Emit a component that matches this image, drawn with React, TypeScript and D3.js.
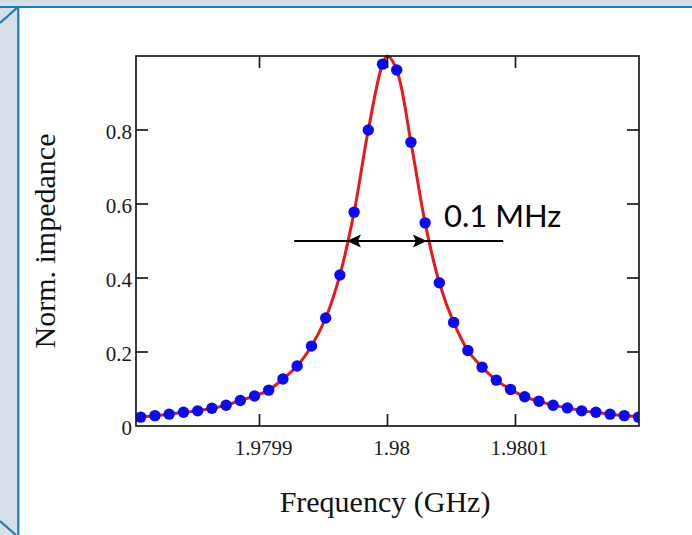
import React from "react";
import * as d3 from "d3";

// Sampled points (blue dots): frequency in GHz, normalized impedance
const dotFreqs: number[] = [
  1.9798072, 1.9798183, 1.9798294, 1.9798406, 1.9798517, 1.9798628, 1.9798739,
  1.979885, 1.9798961, 1.9799072, 1.9799183, 1.9799294, 1.9799406, 1.9799517,
  1.9799628, 1.9799739, 1.979985, 1.9799961, 1.9800072, 1.9800183, 1.9800294,
  1.9800405, 1.9800517, 1.9800628, 1.9800739, 1.980085, 1.9800961, 1.9801072,
  1.9801183, 1.9801294, 1.9801405, 1.9801517, 1.9801628, 1.9801739, 1.980185,
  1.9801961,
];
const dotValues: number[] = [
  0.024, 0.028, 0.032, 0.037, 0.041, 0.048, 0.056, 0.069, 0.081, 0.097, 0.127,
  0.162, 0.216, 0.292, 0.408, 0.578, 0.8, 0.978, 0.962, 0.767, 0.549, 0.387,
  0.28, 0.204, 0.159, 0.124, 0.099, 0.079, 0.067, 0.056, 0.049, 0.041, 0.037,
  0.032, 0.028, 0.024,
];

// Red fitted curve: extra readings (plot edges and the peak) added to the dots
const curveExtraFreqs: number[] = [1.9798035, 1.98, 1.9801965];
const curveExtraValues: number[] = [0.023, 1.0, 0.023];

// Axes
const xDomain: [number, number] = [1.9798035, 1.9801965];
const yDomain: [number, number] = [0, 1];
const xTicks: number[] = [1.9799, 1.98, 1.9801];
const xTickLabels: string[] = ["1.9799", "1.98", "1.9801"];
const yTicks: number[] = [0, 0.2, 0.4, 0.6, 0.8];
const yTickLabels: string[] = ["0", "0.2", "0.4", "0.6", "0.8"];

// Annotation: FWHM arrow
const fwhmLevel = 0.5;
const fwhmLeft = 1.9799683;
const fwhmRight = 1.9800308;
const guideStart = 1.9799271;
const guideEnd = 1.9800904;
const fwhmLabel = "0.1 MHz";

const xLabel = "Frequency (GHz)";
const yLabel = "Norm. impedance";

const W = 692;
const H = 535;
const plot = { left: 136, right: 639, top: 56, bottom: 426 };

export default function App() {
  const x = d3.scaleLinear().domain(xDomain).range([plot.left, plot.right]);
  const y = d3.scaleLinear().domain(yDomain).range([plot.bottom, plot.top]);

  const curvePts: [number, number][] = dotFreqs
    .map((f, i) => [f, dotValues[i]] as [number, number])
    .concat(curveExtraFreqs.map((f, i) => [f, curveExtraValues[i]] as [number, number]))
    .sort((a, b) => a[0] - b[0]);

  const line = d3
    .line<[number, number]>()
    .x((d) => x(d[0]))
    .y((d) => y(d[1]))
    .curve(d3.curveCatmullRom.alpha(0.5));

  const serif = "'Liberation Serif', 'Times New Roman', serif";
  const ay = y(fwhmLevel);
  const lt = x(fwhmLeft);
  const rt = x(fwhmRight);
  const aL = 14;
  const aH = 6.5;
  const notch = 3;

  return (
    <svg
      width={W}
      height={H}
      style={{ position: "fixed", left: 0, top: 0, display: "block" }}
    >
      <defs>
        <clipPath id="plotClip">
          <rect
            x={plot.left}
            y={plot.top - 2}
            width={plot.right - plot.left}
            height={plot.bottom - plot.top + 2}
          />
        </clipPath>
      </defs>
      {/* frame background */}
      <rect x={0} y={0} width={W} height={H} fill="#d6dee7" />
      <rect x={18} y={7} width={W - 18} height={H - 7} fill="#ffffff" />
      <line x1={0} y1={7} x2={W} y2={7} stroke="#1f7bb6" strokeWidth={2.2} />
      <line x1={18.3} y1={6} x2={18.3} y2={H} stroke="#1f7bb6" strokeWidth={2.2} />
      <line x1={18} y1={7} x2={0} y2={23} stroke="#1f7bb6" strokeWidth={2.2} />
      <line x1={0} y1={521} x2={16} y2={535} stroke="#1f7bb6" strokeWidth={2.2} />

      {/* red curve */}
      <g clipPath="url(#plotClip)">
        <path
          d={line(curvePts) || ""}
          fill="none"
          stroke="#e41a1c"
          strokeWidth={3}
        />
        {dotFreqs.map((f, i) => (
          <circle key={i} cx={x(f)} cy={y(dotValues[i])} r={5.7} fill="#0a0af0" />
        ))}
      </g>

      {/* axes box */}
      <rect
        x={plot.left}
        y={plot.top}
        width={plot.right - plot.left}
        height={plot.bottom - plot.top}
        fill="none"
        stroke="#1a1a1a"
        strokeWidth={1.7}
      />
      {xTicks.map((t, i) => (
        <g key={"xt" + i}>
          <line x1={x(t)} x2={x(t)} y1={plot.bottom} y2={plot.bottom - 12} stroke="#1a1a1a" strokeWidth={1.7} />
          <line x1={x(t)} x2={x(t)} y1={plot.top} y2={plot.top + 12} stroke="#1a1a1a" strokeWidth={1.7} />
          <text
            x={x(t) + 4}
            y={455}
            textAnchor="middle"
            fontFamily={serif}
            fontSize={21}
            fill="#1a1a1a"
          >
            {xTickLabels[i]}
          </text>
        </g>
      ))}
      {yTicks.map((t, i) => (
        <g key={"yt" + i}>
          {t > 0 && (
            <>
              <line x1={plot.left} x2={plot.left + 12} y1={y(t)} y2={y(t)} stroke="#1a1a1a" strokeWidth={1.7} />
              <line x1={plot.right} x2={plot.right - 12} y1={y(t)} y2={y(t)} stroke="#1a1a1a" strokeWidth={1.7} />
            </>
          )}
          <text
            x={132}
            y={y(t) + 9}
            textAnchor="end"
            fontFamily={serif}
            fontSize={21}
            fill="#1a1a1a"
          >
            {yTickLabels[i]}
          </text>
        </g>
      ))}

      {/* axis titles */}
      <text
        x={385}
        y={512}
        textAnchor="middle"
        fontFamily={serif}
        fontSize={30}
        fill="#111"
      >
        {xLabel}
      </text>
      <text
        transform={`translate(55, ${(plot.top + plot.bottom) / 2}) rotate(-90)`}
        textAnchor="middle"
        fontFamily={serif}
        fontSize={30}
        fill="#111"
      >
        {yLabel}
      </text>

      {/* FWHM annotation */}
      <line x1={x(guideStart)} x2={x(guideEnd)} y1={ay} y2={ay} stroke="#000" strokeWidth={2} />
      <path
        d={`M${lt},${ay} L${lt + aL},${ay - aH} L${lt + aL - notch},${ay} L${lt + aL},${ay + aH} Z`}
        fill="#000"
      />
      <path
        d={`M${rt},${ay} L${rt - aL},${ay - aH} L${rt - aL + notch},${ay} L${rt - aL},${ay + aH} Z`}
        fill="#000"
      />
      <text
        x={444}
        y={227}
        fontFamily="Lato, 'Open Sans', sans-serif"
        fontSize={31}
        fill="#000"
      >
        {fwhmLabel}
      </text>
    </svg>
  );
}
